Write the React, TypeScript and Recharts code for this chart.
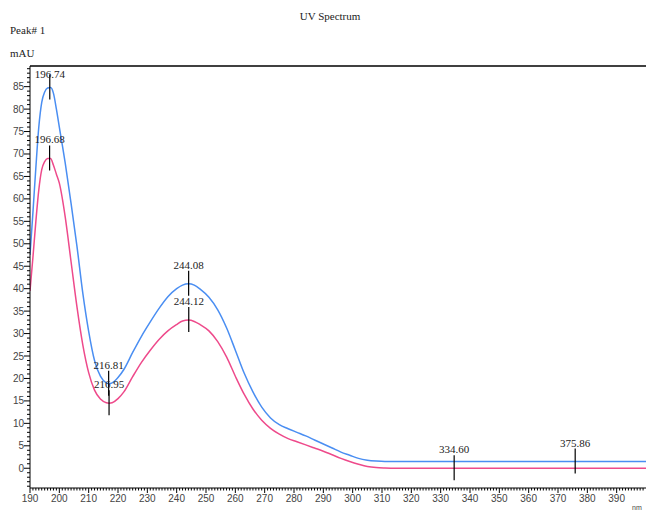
import { LineChart, Line, XAxis, YAxis, ReferenceDot, ReferenceLine } from 'recharts';

const wavelengths = [
  190, 191, 192, 193, 194, 195, 196, 197, 198, 199, 200, 202, 204, 206, 208, 210, 212, 214, 216, 217,
  218, 220, 222, 225, 228, 231, 234, 237, 240, 242, 244, 246, 248, 251, 254, 257, 260, 263, 266, 269,
  272, 275, 278, 281, 284, 287, 290, 293, 296, 299, 302, 305, 308, 311, 315, 320, 330, 340, 350, 360,
  370, 380, 390, 400
];
const blueValues = [
  47.5, 57, 67, 76, 81.5, 83.8, 84.7, 84.8, 83.5, 80, 76, 68, 59, 49.5, 39, 30.5, 24, 20.5, 19, 18.8,
  19, 20.2, 22, 25.8, 29.4, 32.6, 35.6, 38.2, 40, 40.8, 41.1, 40.8, 39.9, 38.1, 35.3, 31.3, 26.3, 21.2, 17, 13.6,
  11.2, 9.7, 8.8, 8, 7.2, 6.3, 5.4, 4.5, 3.6, 2.9, 2.2, 1.8, 1.6, 1.5, 1.5, 1.5, 1.5, 1.5, 1.5, 1.5,
  1.5, 1.5, 1.5, 1.5
];
const pinkValues = [
  39.5, 47, 55, 62, 66.5, 68.3, 69, 69, 67.5, 65.5, 63.5, 56, 46, 36, 27.5, 21.3, 17.4, 15.4, 14.6, 14.5,
  14.6, 15.5, 17, 20.4, 23.6, 26.3, 28.7, 30.6, 32, 32.8, 33, 32.7, 32, 30.6, 28.2, 24.8, 20.5, 16.5, 13.2, 10.7,
  8.9, 7.6, 6.6, 5.9, 5.2, 4.5, 3.8, 3, 2.2, 1.5, 0.9, 0.4, 0.15, 0.05, 0, 0, 0, 0, 0, 0,
  0, 0, 0, 0
];

const bluePeaks = [196.74, 216.81, 244.08, 375.86];
const bluePeakValues = [84.8, 18.8, 41.1, 1.5];
const pinkPeaks = [196.68, 216.95, 244.12, 334.6];
const pinkPeakValues = [69, 14.5, 33, 0];

const xTicks: number[] = [];
for (let v = 190; v < 400; v++) xTicks.push(v);
const yTicks: number[] = [];
for (let v = -4; v <= 89; v++) yTicks.push(v);

const data = wavelengths.map((wl, i) => ({ wl, blue: blueValues[i], pink: pinkValues[i] }));

const Y_MIN = -4.4;
const Y_MAX = 89.6;

function XTick(props: any) {
  const { x, y, payload } = props;
  const v = payload.value;
  const major = v % 10 === 0;
  const y0 = y - 6;
  return (
    <g>
      <line x1={x} x2={x} y1={y0} y2={y0 + (major ? 5 : 2.5)} stroke="#000" strokeWidth={1} />
      {major && (
        <text x={x} y={y0 + 14} textAnchor="middle" fontFamily="Liberation Sans" fontSize={10} fill="#444">
          {v}
        </text>
      )}
    </g>
  );
}

function YTick(props: any) {
  const { x, y, payload } = props;
  const v = payload.value;
  const major = v % 5 === 0 && v >= 0;
  const x0 = x + 6;
  return (
    <g>
      <line x1={x0} x2={x0 - (major ? 6 : 3)} y1={y} y2={y} stroke="#000" strokeWidth={1} />
      {major && (
        <text x={x0 - 6} y={y + 3.5} textAnchor="end" fontFamily="Liberation Sans" fontSize={10} fill="#444">
          {v}
        </text>
      )}
    </g>
  );
}

function PeakMark(props: any) {
  const { cx, cy, label } = props;
  const ty = Math.max(cy - 15, 78);
  return (
    <g>
      <line x1={cx} x2={cx} y1={cy - 13} y2={cy + 12} stroke="#000" strokeWidth={1.2} />
      <text x={cx} y={ty} textAnchor="middle" fontFamily="Liberation Serif" fontSize={11} fill="#222">
        {label}
      </text>
    </g>
  );
}

export default function App() {
  return (
    <div style={{ position: 'relative', width: 646, height: 514, background: '#fff' }}>
      <style>{`body{margin:0}`}</style>
      <div style={{ position: 'absolute', left: 0, top: 10, width: 660, textAlign: 'center', fontFamily: 'Liberation Serif', fontSize: 11, color: '#222' }}>
        UV Spectrum
      </div>
      <div style={{ position: 'absolute', left: 10, top: 24, fontFamily: 'Liberation Serif', fontSize: 11, color: '#222' }}>
        Peak# 1
      </div>
      <div style={{ position: 'absolute', left: 10, top: 47, fontFamily: 'Liberation Serif', fontSize: 11, color: '#222' }}>
        mAU
      </div>
      <div style={{ position: 'absolute', left: 632, top: 503, fontFamily: 'Liberation Sans', fontSize: 7, color: '#444', lineHeight: '9px' }}>
        nm
      </div>
      <LineChart width={646} height={514} data={data} margin={{ top: 66, right: 0, bottom: 0, left: 0 }}>
        <XAxis
          dataKey="wl"
          type="number"
          domain={[190, 400]}
          ticks={xTicks}
          interval={0}
          tickSize={6}
          tickMargin={0}
          tickLine={false}
          tick={<XTick />}
          height={26}
          axisLine={{ stroke: '#000' }}
          allowDataOverflow
        />
        <YAxis
          type="number"
          domain={[Y_MIN, Y_MAX]}
          ticks={yTicks}
          interval={0}
          tickSize={6}
          tickMargin={0}
          tickLine={false}
          tick={<YTick />}
          width={30}
          axisLine={{ stroke: '#000' }}
          allowDataOverflow
        />
        <ReferenceLine y={Y_MAX} stroke="#000" strokeWidth={1.5} />
        <Line type="monotone" dataKey="blue" stroke="#4a8ef2" strokeWidth={1.5} dot={false} isAnimationActive={false} />
        <Line type="monotone" dataKey="pink" stroke="#ee4a8b" strokeWidth={1.5} dot={false} isAnimationActive={false} />
        {bluePeaks.map((p, i) => (
          <ReferenceDot
            key={'b' + i}
            x={p}
            y={bluePeakValues[i]}
            r={0}
            shape={(sp: any) => <PeakMark {...sp} label={p.toFixed(2)} />}
          />
        ))}
        {pinkPeaks.map((p, i) => (
          <ReferenceDot
            key={'p' + i}
            x={p}
            y={pinkPeakValues[i]}
            r={0}
            shape={(sp: any) => <PeakMark {...sp} label={p.toFixed(2)} />}
          />
        ))}
      </LineChart>
    </div>
  );
}
